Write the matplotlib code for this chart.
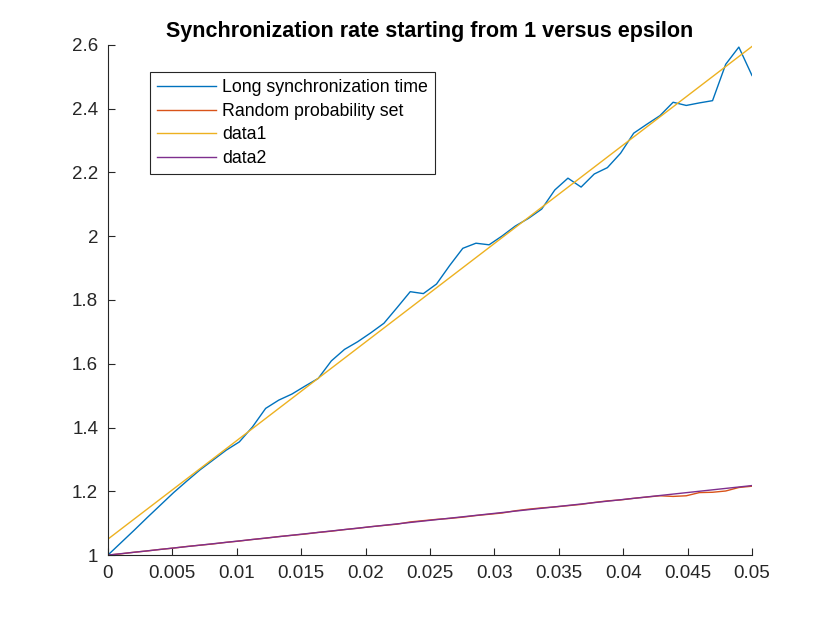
import matplotlib
matplotlib.use('Agg')
import matplotlib.pyplot as plt
import numpy as np

plt.rcParams['font.family'] = ['Liberation Sans', 'DejaVu Sans']

# 50 epsilon values from 0 to 0.05
epsilon = np.linspace(0, 0.05, 50)

long_sync = [1.000, 1.039, 1.078, 1.118, 1.157, 1.196, 1.232, 1.267, 1.298, 1.329,
             1.355, 1.402, 1.460, 1.486, 1.505, 1.530, 1.554, 1.609, 1.645, 1.669,
             1.697, 1.727, 1.776, 1.826, 1.820, 1.850, 1.908, 1.962, 1.978, 1.973,
             2.001, 2.032, 2.056, 2.085, 2.145, 2.182, 2.154, 2.195, 2.215, 2.260,
             2.323, 2.351, 2.378, 2.420, 2.410, 2.418, 2.425, 2.539, 2.593, 2.504]

random_prob = [1.000, 1.004, 1.009, 1.013, 1.018, 1.022, 1.027, 1.031, 1.035, 1.040,
               1.044, 1.049, 1.053, 1.058, 1.062, 1.066, 1.071, 1.075, 1.080, 1.084,
               1.089, 1.093, 1.097, 1.104, 1.108, 1.112, 1.115, 1.119, 1.124, 1.128,
               1.132, 1.139, 1.144, 1.148, 1.151, 1.155, 1.159, 1.165, 1.170, 1.173,
               1.178, 1.182, 1.186, 1.184, 1.186, 1.196, 1.197, 1.201, 1.212, 1.216]

fit_long = [1.050, 2.595]    # data1 line ends
fit_rand = [1.000, 1.218]    # data2 line ends
fit_x = [0, 0.05]

fig = plt.figure(figsize=(8.3, 6.23), dpi=100)
ax = fig.add_axes([0.130, 0.109, 0.776, 0.819])

ax.plot(epsilon, long_sync, color='#0072BD', lw=1.0, label='Long synchronization time')
ax.plot(epsilon, random_prob, color='#D95319', lw=1.0, label='Random probability set')
ax.plot(fit_x, fit_long, color='#EDB120', lw=1.0, label='data1')
ax.plot(fit_x, fit_rand, color='#7E2F8E', lw=1.0, label='data2')

ax.set_xlim(0, 0.05)
ax.set_ylim(1, 2.6)
ax.set_xticks(np.arange(0, 0.0501, 0.005))
ax.set_xticklabels(['0', '0.005', '0.01', '0.015', '0.02', '0.025', '0.03',
                    '0.035', '0.04', '0.045', '0.05'])
ax.set_yticks(np.arange(1, 2.61, 0.2))
ax.set_yticklabels(['1', '1.2', '1.4', '1.6', '1.8', '2', '2.2', '2.4', '2.6'])

ax.spines['top'].set_visible(False)
ax.spines['right'].set_visible(False)
for s in ['left', 'bottom']:
    ax.spines[s].set_color('#262626')
    ax.spines[s].set_linewidth(0.8)
ax.tick_params(direction='in', length=5, width=0.8, colors='#262626',
               labelsize=13.5, labelcolor='#262626', pad=7)

ax.set_title('Synchronization rate starting from 1 versus epsilon',
             fontsize=15.5, fontweight='bold', pad=6)

leg = ax.legend(loc='upper left', bbox_to_anchor=(0.065, 0.947), fontsize=12.75,
                frameon=True, fancybox=False, handlelength=3.33, handletextpad=0.34,
                labelspacing=0.38, borderpad=0.4, borderaxespad=0)
leg.get_frame().set_edgecolor('#262626')
leg.get_frame().set_linewidth(0.8)
leg.get_frame().set_alpha(1)

fig.savefig('out.png', dpi=100)
